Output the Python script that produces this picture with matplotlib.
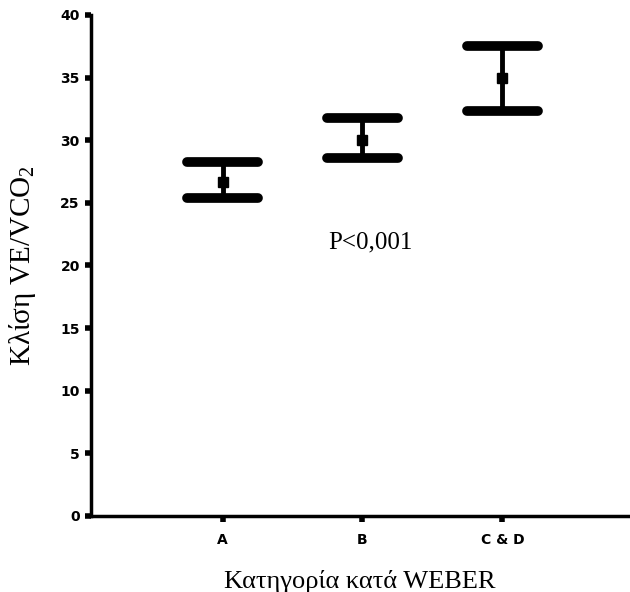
import numpy as np
import matplotlib
matplotlib.use("Agg")
import matplotlib.pyplot as plt

plt.rcParams["mathtext.fontset"] = "custom"
plt.rcParams["mathtext.rm"] = "Liberation Serif"
plt.rcParams["mathtext.it"] = "Liberation Serif"

categories = ["A", "B", "C & D"]
means = [26.7, 30.0, 35.0]
lower = [25.4, 28.6, 32.3]
upper = [28.3, 31.8, 37.5]
yticks = [0, 5, 10, 15, 20, 25, 30, 35, 40]

x = np.arange(1, len(categories) + 1)
m = np.array(means)
err = np.array([m - np.array(lower), np.array(upper) - m])

fig = plt.figure(figsize=(6.3, 5.92), dpi=100)
ax = fig.add_axes([0.1444, 0.1284, 0.853, 0.8463])

# error bars with rounded caps
ax.errorbar(x, m, yerr=err, fmt="none", ecolor="black", elinewidth=3.5)
half = 0.255
ax.hlines(upper, x - half, x + half, color="black", lw=7, capstyle="round")
ax.hlines(lower, x - half, x + half, color="black", lw=7, capstyle="round")
ax.plot(x, m, "s", color="black", ms=7.5)

ax.set_xlim(0.06, 3.9)
ax.set_ylim(0, 40)
ax.set_xticks(x)
ax.set_xticklabels(categories)
ax.set_yticks(yticks)

for s in ["top", "right"]:
    ax.spines[s].set_visible(False)
for s in ["left", "bottom"]:
    ax.spines[s].set_linewidth(2.5)
    ax.spines[s].set_clip_on(False)

ax.tick_params(axis="both", length=4, width=4, direction="out", pad=4,
               labelsize=10)
ax.tick_params(axis="x", pad=8)
for lab in ax.get_xticklabels() + ax.get_yticklabels():
    lab.set_fontweight("heavy")
    lab.set_family("DejaVu Sans")

ax.text(2.06, 21.8, "P<0,001", ha="center", va="center", fontsize=18,
        family="Liberation Serif")
ax.set_xlabel("Κατηγορία κατά WEBER", fontsize=19, family="Liberation Serif",
              labelpad=17)
ax.set_ylabel("Κλίση VE/VCO$_{2}$", fontsize=21, family="Liberation Serif",
              labelpad=16)

fig.savefig("out.png", dpi=100)
